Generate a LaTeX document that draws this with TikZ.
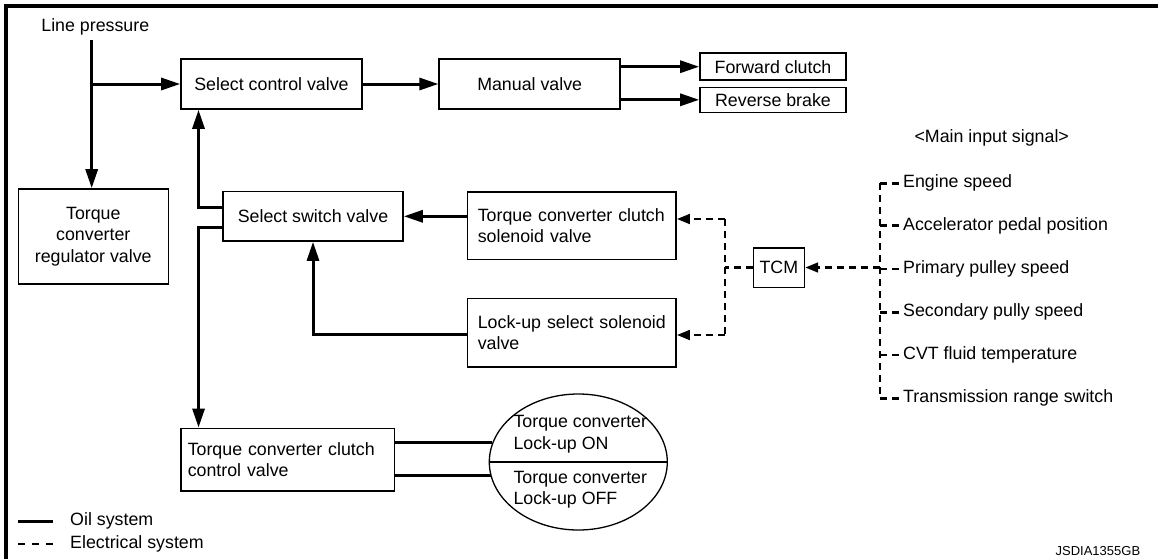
\documentclass[tikz,border=0pt]{standalone}
\usepackage{fontspec}
\setmainfont{Liberation Sans}
\usetikzlibrary{arrows.meta,shapes.geometric,calc}
\begin{document}
\begin{tikzpicture}[x=1pt,y=-1pt,
  every node/.style={font=\fontsize{17.8pt}{21.5pt}\selectfont},
  box/.style={draw, line width=1.6pt, inner sep=0pt, align=center},
  lbox/.style={draw, line width=1.6pt, inner ysep=0pt, align=left},
  txt/.style={inner sep=0pt},
  oil/.style={line width=3pt},
  elec/.style={line width=2.8pt, dash pattern=on 7pt off 5pt},
  oarrow/.style={-{Triangle[length=19pt,width=12pt]}},
  earrow/.style={-{Triangle[length=13pt,width=9.5pt]}}]
\useasboundingbox (0,0) rectangle (1158,558);
% frame
\draw[line width=3.5pt] (6,560) -- (6,6) -- (1160,6);

% boxes
\node[box, minimum width=181pt, minimum height=50pt] (scv) at (271.5,84) {Select control valve};
\node[box, minimum width=181pt, minimum height=50pt] (mv) at (529.7,84) {Manual valve};
\node[box, minimum width=146pt, minimum height=27pt] (fc) at (773,66.7) {Forward clutch};
\node[box, minimum width=146pt, minimum height=25pt] (rb) at (773,99.8) {Reverse brake};
\node[box, minimum width=150pt, minimum height=95pt] (tcrv) at (93.3,236.5) {Torque\\converter\\regulator valve};
\node[box, minimum width=180pt, minimum height=49.5pt] (ssv) at (313,216.3) {Select switch valve};
\node[lbox, text width=188pt, inner xsep=10.15pt, minimum height=67.6pt] (tccsv) at (571.8,225.5) {Torque converter clutch\\solenoid valve};
\node[lbox, text width=188pt, inner xsep=10.15pt, minimum height=68.4pt] (lssv) at (571.8,332.5) {Lock-up select solenoid\\valve};
\node[box, minimum width=51pt, minimum height=39.6pt] (tcm) at (778.8,267.5) {TCM};
\node[lbox, text width=199.9pt, inner xsep=6.7pt, minimum height=62.7pt] (tccv) at (287.7,459.7) {Torque converter clutch\\control valve};

% ellipse
\node[ellipse, draw, line width=1.3pt, minimum width=178pt, minimum height=136pt, inner sep=0pt] (ell) at (578.3,462) {};
\draw[line width=1.3pt] (ell.west) -- (ell.east);
\node[txt, anchor=west, align=left] (eon) at (513.3,434) {Torque converter\\Lock-up ON};
\node[txt, anchor=west, align=left] (eoff) at (513.3,489.5) {Torque converter\\Lock-up OFF};

% texts
\node[txt] (lp) at (95.3,27) {Line pressure};
\node[txt] (mis) at (991.7,137.7) {<Main input signal>};
\node[txt, anchor=west] (s1) at (903,183.3) {Engine speed};
\node[txt, anchor=west] (s2) at (903,225.7) {Accelerator pedal position};
\node[txt, anchor=west] (s3) at (903,269) {Primary pulley speed};
\node[txt, anchor=west] (s4) at (903,312.3) {Secondary pully speed};
\node[txt, anchor=west] (s5) at (903,355) {CVT fluid temperature};
\node[txt, anchor=west] (s6) at (903,398.3) {Transmission range switch};

% oil connectors
\coordinate (lp0) at (91.7,40);
\draw[oil, oarrow] (lp0) -- (lp0 |- tcrv.north);
\draw[oil, oarrow] (lp0 |- scv.west) -- (scv.west);
\draw[oil, oarrow] (scv.east) -- (mv.west);
\draw[oil, oarrow] (mv.east |- fc.west) -- (fc.west);
\draw[oil, oarrow] (mv.east |- rb.west) -- (rb.west);
\draw[oil, oarrow] ([yshift=9.3pt]ssv.west) -| ([xshift=18.3pt]scv.south west);
\draw[oil, oarrow] ([yshift=-11pt]ssv.west) -| ([xshift=18.3pt]tccv.north west);
\draw[oil, oarrow] (tccsv.west |- ssv.east) -- (ssv.east);
\draw[oil, oarrow] ([yshift=-1.5pt]lssv.west) -| (ssv.south);
\draw[oil] (tccv.east |- ell.167) -- (ell.167);
\draw[oil] (tccv.east |- ell.189.6) -- (ell.189.6);

% electrical connectors
\coordinate (j0) at (725,267.5);
\coordinate (j1) at (725,219);
\coordinate (j2) at (725,335);
\draw[elec] (tcm.west) -- (j0);
\draw[elec] (j1) -- (j2);
\draw[elec, earrow] (j1) -- (tccsv.east |- j1);
\draw[elec, earrow] (j2) -- (lssv.east |- j2);

\coordinate (sigtop) at (880,183.3);
\coordinate (sigbot) at (880,398.3);
\coordinate (sigj) at (880,267.5);
\draw[elec] (sigtop) -- (sigbot);
\draw[elec] (sigtop) -- (s1.west);
\draw[elec] (sigtop |- s2.west) -- (s2.west);
\draw[elec] (sigtop |- s3.west) -- (s3.west);
\draw[elec] (sigtop |- s4.west) -- (s4.west);
\draw[elec] (sigtop |- s5.west) -- (s5.west);
\draw[elec] (sigbot) -- (s6.west);
\draw[elec, earrow] (sigj) -- (tcm.east);

% legend
\coordinate (l1a) at (18.3,521);
\coordinate (l1b) at (53.3,521);
\coordinate (l2a) at (18.3,544);
\coordinate (l2b) at (53.3,544);
\draw[oil] (l1a) -- (l1b);
\draw[line width=2.8pt, dash pattern=on 7pt off 7pt] (l2a) -- (l2b);
\node[txt, anchor=west] (loil) at (70,521) {Oil system};
\node[txt, anchor=west] (lel) at (70,544) {Electrical system};
\node[txt, font=\fontsize{13pt}{15pt}\selectfont] (code) at (1097.9,551.3) {JSDIA1355GB};
\end{tikzpicture}
\end{document}
